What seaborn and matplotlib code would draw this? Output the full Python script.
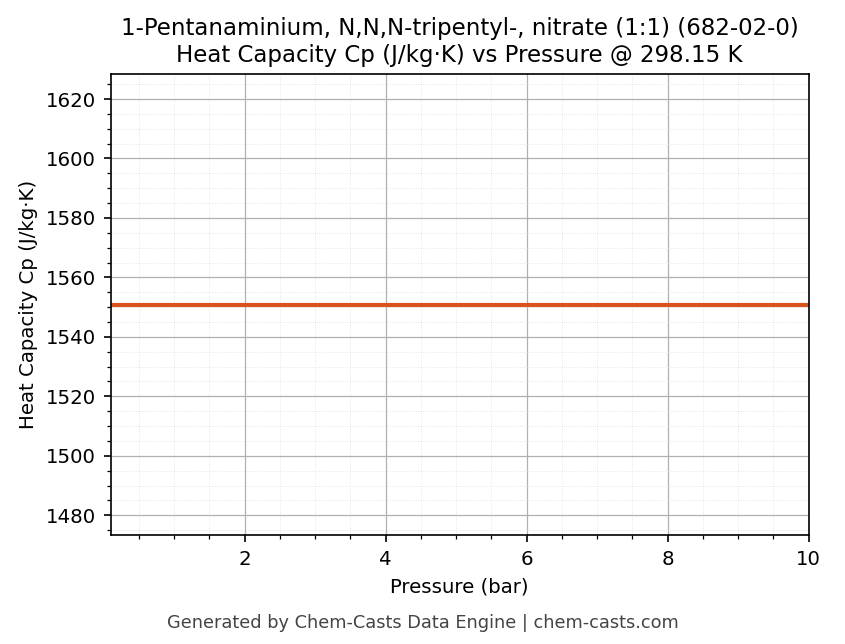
import numpy as np
import pandas as pd
import seaborn as sns
import matplotlib
matplotlib.use("Agg")
import matplotlib.pyplot as plt
from matplotlib.ticker import AutoMinorLocator

pressure = [0.1, 1, 2, 3, 4, 5, 6, 7, 8, 9, 10]
cp = [1550.85] * len(pressure)
df = pd.DataFrame({"Pressure (bar)": pressure, "Cp": cp})

sns.set_style("ticks")
plt.rcParams['font.family'] = ['DejaVu Sans']
plt.rcParams['text.color'] = 'black'
plt.rcParams['axes.labelcolor'] = 'black'
plt.rcParams['xtick.color'] = 'black'
plt.rcParams['ytick.color'] = 'black'
fig = plt.figure(figsize=(845/150, 644/150), dpi=150)
ax = fig.add_axes([0.131, 0.169, 0.826, 0.716])
sns.lineplot(data=df, x="Pressure (bar)", y="Cp", ax=ax, color="#d9531e", linewidth=2.0)
ax.set_xlim(0.1, 10)
ax.set_ylim(1550.85*0.95, 1550.85*1.05)
ax.xaxis.set_minor_locator(AutoMinorLocator())
ax.yaxis.set_minor_locator(AutoMinorLocator())
ax.grid(True, which="major", color="#b0b0b0", linewidth=0.6)
ax.grid(True, which="minor", color="#e0e0e0", linewidth=0.4, linestyle=":")
for s in ax.spines.values():
    s.set_visible(True); s.set_color("black"); s.set_linewidth(0.8)
ax.set_xlabel("Pressure (bar)", fontsize=9.5)
ax.set_ylabel("Heat Capacity Cp (J/kg·K)", fontsize=9.5)
ax.tick_params(labelsize=9.5)
ax.set_title("1-Pentanaminium, N,N,N-tripentyl-, nitrate (1:1) (682-02-0)\nHeat Capacity Cp (J/kg·K) vs Pressure @ 298.15 K", fontsize=11)
fig.text(0.5, 0.025, "Generated by Chem-Casts Data Engine | chem-casts.com", ha="center", fontsize=8.5, color="#444444")
fig.savefig("out.png", dpi=150)
